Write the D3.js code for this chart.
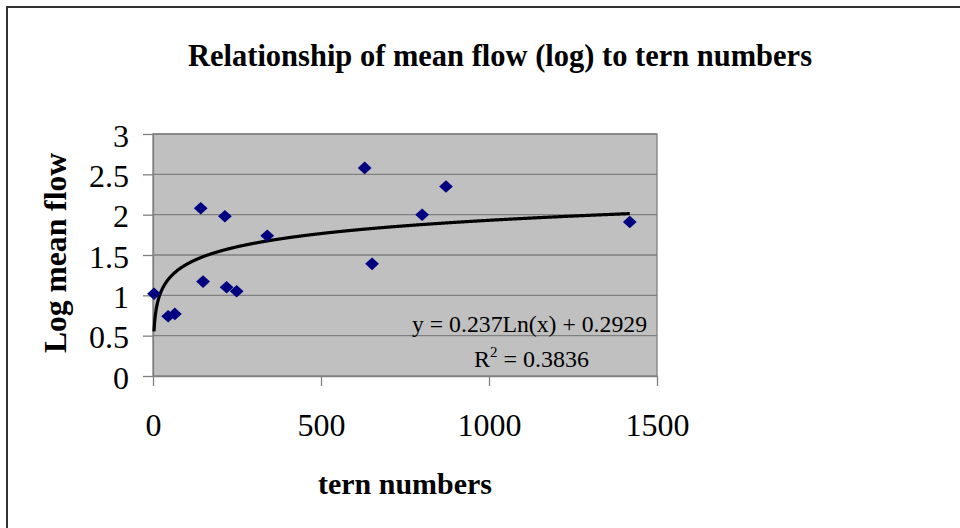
<!DOCTYPE html>
<meta charset="utf-8">
<style>
body { margin: 0; background: #fff; }
svg { display: block; font-family: "Liberation Serif", "DejaVu Serif", serif; }
.grid line { stroke: #808080; stroke-width: 1.3; }
.axis path, .axis line { stroke: #808080; stroke-width: 1.3; }
</style>
<body>
<svg id="chart" width="960" height="528"></svg>
</body>
<script src="https://d3js.org/d3.v7.min.js"></script>
<script>
// tern numbers (x) and log mean flow (y)
var ternNumbers = [3, 45, 65, 142, 149, 214, 219, 249, 340, 630, 652, 801, 872, 1419];
var logMeanFlow = [1.02, 0.74, 0.77, 2.08, 1.17, 1.98, 1.10, 1.05, 1.74, 2.58, 1.39, 2.00, 2.35, 1.91];
var xTicks = [0, 500, 1000, 1500];
var yTicks = [0, 0.5, 1, 1.5, 2, 2.5, 3];
// fitted trend line shown on the chart
var trendSlope = 0.237, trendIntercept = 0.2929, trendR2 = 0.3836;

var svg = d3.select("#chart");

// chart frame (runs off the right and bottom edges)
svg.append("rect")
  .attr("x", 7).attr("y", 7).attr("width", 1000).attr("height", 600)
  .attr("fill", "none").attr("stroke", "#333").attr("stroke-width", 2);

var x = d3.scaleLinear().domain([0, 1500]).range([153, 657]),
    y = d3.scaleLinear().domain([0, 3]).range([376, 134]);

// plot area
svg.append("rect")
  .attr("x", x(0)).attr("y", y(3))
  .attr("width", x(1500) - x(0)).attr("height", y(0) - y(3))
  .attr("fill", "#c0c0c0").attr("stroke", "#808080").attr("stroke-width", 1.3);

svg.append("g").attr("class", "grid")
  .selectAll("line").data(yTicks.slice(1)).enter().append("line")
  .attr("x1", x(0)).attr("x2", x(1500))
  .attr("y1", function(d) { return y(d); }).attr("y2", function(d) { return y(d); });

var xAxis = svg.append("g").attr("class", "axis")
  .attr("transform", "translate(0," + y(0) + ")")
  .call(d3.axisBottom(x).tickValues(xTicks).tickSize(10).tickPadding(27).tickSizeOuter(0)
    .tickFormat(function(d) { return String(d); }));

var yAxis = svg.append("g").attr("class", "axis")
  .attr("transform", "translate(" + x(0) + ",0)")
  .call(d3.axisLeft(y).tickValues(yTicks).tickSize(10).tickPadding(14).tickSizeOuter(0)
    .tickFormat(function(d) { return String(d); }));

svg.selectAll(".axis text")
  .attr("font-size", 32).attr("font-family", "Liberation Serif, serif").attr("fill", "#000");
yAxis.selectAll("text").attr("dy", "0.38em");

// trend line
var xs = d3.range(d3.min(ternNumbers), d3.max(ternNumbers) + 1, 1);
var line = d3.line()
  .x(function(d) { return x(d); })
  .y(function(d) { return y(trendSlope * Math.log(d) + trendIntercept); });
svg.append("path").datum(xs)
  .attr("d", line).attr("fill", "none")
  .attr("stroke", "#000").attr("stroke-width", 3.2);

// points
var diamond = d3.symbol().type(d3.symbolDiamond2).size(100);
svg.append("g").selectAll("path").data(ternNumbers).enter().append("path")
  .attr("d", diamond)
  .attr("transform", function(d, i) { return "translate(" + x(d) + "," + y(logMeanFlow[i]) + ") scale(1.1,1)"; })
  .attr("fill", "#000080");

// equation labels
svg.append("text").attr("x", 647).attr("y", 332).attr("text-anchor", "end")
  .attr("font-size", 24).attr("textLength", 235).attr("lengthAdjust", "spacingAndGlyphs")
  .text("y = " + trendSlope + "Ln(x) + " + trendIntercept);
var r2 = svg.append("text").attr("x", 589).attr("y", 367).attr("text-anchor", "end").attr("font-size", 24);
r2.append("tspan").text("R");
r2.append("tspan").attr("dy", -10).attr("font-size", 15).text("2");
r2.append("tspan").attr("dy", 10).text(" = " + trendR2);

// titles
svg.append("text").attr("x", 500).attr("y", 66).attr("text-anchor", "middle")
  .attr("font-size", 31).attr("font-weight", "bold")
  .attr("textLength", 624).attr("lengthAdjust", "spacingAndGlyphs")
  .text("Relationship of mean flow (log) to tern numbers");
svg.append("text").attr("x", 405).attr("y", 494).attr("text-anchor", "middle")
  .attr("font-size", 30).attr("font-weight", "bold")
  .attr("textLength", 174).attr("lengthAdjust", "spacingAndGlyphs")
  .text("tern numbers");
svg.append("text").attr("transform", "translate(66,253) rotate(-90)")
  .attr("text-anchor", "middle")
  .attr("font-size", 31).attr("font-weight", "bold")
  .attr("textLength", 200).attr("lengthAdjust", "spacingAndGlyphs")
  .text("Log mean flow");
</script>
